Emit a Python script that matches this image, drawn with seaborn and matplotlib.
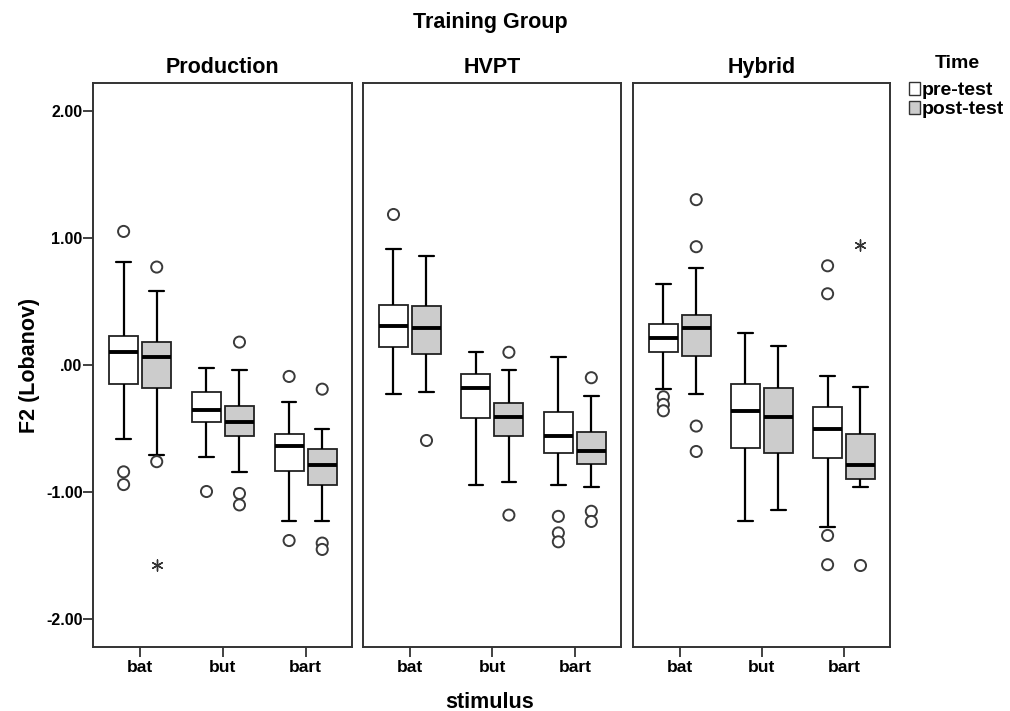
import numpy as np
import pandas as pd
import matplotlib
matplotlib.use("Agg")
import matplotlib.pyplot as plt
import seaborn as sns
from matplotlib.patches import Patch

groups = ["Production", "HVPT", "Hybrid"]
stimuli = ["bat", "but", "bart"]
times = ["pre-test", "post-test"]
yticks = [2.0, 1.0, 0.0, -1.0, -2.0]
ytick_labels = ["2.00", "1.00", ".00", "-1.00", "-2.00"]

# per group: one (pre, post) pair per stimulus (bat, but, bart)
whisker_low = {
    "Production": [(-0.58, -0.71), (-0.72, -0.84), (-1.23, -1.23)],
    "HVPT":       [(-0.23, -0.21), (-0.94, -0.92), (-0.94, -0.96)],
    "Hybrid":     [(-0.19, -0.23), (-1.23, -1.14), (-1.27, -0.96)],
}
q1 = {
    "Production": [(-0.15, -0.18), (-0.45, -0.56), (-0.83, -0.94)],
    "HVPT":       [(0.14, 0.09), (-0.42, -0.56), (-0.69, -0.78)],
    "Hybrid":     [(0.10, 0.07), (-0.65, -0.69), (-0.73, -0.90)],
}
median = {
    "Production": [(0.10, 0.06), (-0.35, -0.45), (-0.64, -0.79)],
    "HVPT":       [(0.31, 0.29), (-0.18, -0.41), (-0.56, -0.68)],
    "Hybrid":     [(0.21, 0.29), (-0.36, -0.41), (-0.50, -0.79)],
}
q3 = {
    "Production": [(0.23, 0.18), (-0.21, -0.32), (-0.54, -0.66)],
    "HVPT":       [(0.47, 0.46), (-0.07, -0.30), (-0.37, -0.53)],
    "Hybrid":     [(0.32, 0.39), (-0.15, -0.18), (-0.33, -0.54)],
}
whisker_high = {
    "Production": [(0.81, 0.58), (-0.02, -0.04), (-0.29, -0.50)],
    "HVPT":       [(0.91, 0.86), (0.10, -0.04), (0.06, -0.24)],
    "Hybrid":     [(0.64, 0.76), (0.25, 0.15), (-0.09, -0.17)],
}
# outliers (circles): per group, per stimulus, (pre list, post list)
outliers = {
    "Production": [([1.05, -0.84, -0.94], [0.77, -0.76]),
                   ([-0.99], [0.18, -1.01, -1.10]),
                   ([-0.09, -1.38], [-0.19, -1.40, -1.45])],
    "HVPT":       [([1.19], [-0.59]),
                   ([], [0.10, -1.18]),
                   ([-1.19, -1.32, -1.39], [-0.10, -1.15, -1.23])],
    "Hybrid":     [([-0.25, -0.31, -0.36], [1.30, 0.93, -0.48, -0.68]),
                   ([], []),
                   ([0.78, 0.56, -1.34, -1.57], [-1.57])],
}
# extreme values (asterisks)
extremes = {
    "Production": [([], [-1.57]), ([], []), ([], [])],
    "HVPT":       [([], []), ([], []), ([], [])],
    "Hybrid":     [([], []), ([], []), ([], [0.94])],
}

# ---- build tidy tables ----
box_rows, out_rows, ext_rows = [], [], []
for g in groups:
    for si, s in enumerate(stimuli):
        for ti, t in enumerate(times):
            five = [whisker_low[g][si][ti], q1[g][si][ti], median[g][si][ti],
                    q3[g][si][ti], whisker_high[g][si][ti]]
            for v in five:
                box_rows.append((g, s, t, v))
            for v in outliers[g][si][ti]:
                out_rows.append((g, s, t, v))
            for v in extremes[g][si][ti]:
                ext_rows.append((g, s, t, v))
cols = ["group", "stimulus", "time", "value"]
box_df = pd.DataFrame(box_rows, columns=cols)
out_df = pd.DataFrame(out_rows, columns=cols)
ext_df = pd.DataFrame(ext_rows, columns=cols)

sns.set_theme(style="white")
plt.rcParams["font.family"] = ["Liberation Sans", "DejaVu Sans"]
plt.rcParams["font.weight"] = "bold"
plt.rcParams["text.color"] = "black"
plt.rcParams["axes.labelcolor"] = "black"
plt.rcParams["xtick.color"] = "black"
plt.rcParams["ytick.color"] = "black"

W, H = 1010, 711
fig = plt.figure(figsize=(W / 100, H / 100), dpi=100)
panel_lr = [(93, 352), (363, 621), (633, 890)]
top_px, bot_px = 83, 647

fill = {"pre-test": "white", "post-test": "#cccccc"}
edge = "#222222"

for gi, g in enumerate(groups):
    l, r = panel_lr[gi]
    ax = fig.add_axes([l / W, 1 - bot_px / H, (r - l) / W, (bot_px - top_px) / H])
    sub = box_df[box_df.group == g]
    sns.boxplot(data=sub, x="stimulus", y="value", hue="time",
                order=stimuli, hue_order=times, palette=fill,
                width=0.8, gap=0.12, whis=(0, 100), showfliers=False,
                linewidth=1.3, linecolor=edge,
                medianprops=dict(color="black", linewidth=2.8),
                whiskerprops=dict(color="black", linewidth=1.6),
                capprops=dict(color="black", linewidth=1.6),
                legend=False, ax=ax)
    so = out_df[out_df.group == g]
    if len(so):
        sns.stripplot(data=so, x="stimulus", y="value", hue="time",
                      order=stimuli, hue_order=times,
                      palette={"pre-test": "white", "post-test": "white"},
                      dodge=True, jitter=False, marker="o", size=8,
                      edgecolor="#3a3a3a", linewidth=1.4, legend=False, ax=ax)
    se = ext_df[ext_df.group == g]
    if len(se):
        sns.stripplot(data=se, x="stimulus", y="value", hue="time",
                      order=stimuli, hue_order=times,
                      palette={"pre-test": "#333333", "post-test": "#333333"},
                      dodge=True, jitter=False, marker=(6, 2, 0), size=8,
                      edgecolor="#333333", linewidth=1.0, legend=False, ax=ax)
    ax.set_xlim(-0.57, 2.56)
    ax.set_ylim(-2.217, 2.217)
    ax.set_xlabel("")
    ax.set_ylabel("")
    ax.set_title(g, fontsize=15.5, fontweight="bold", pad=7, color="black")
    for sp in ax.spines.values():
        sp.set_visible(True)
        sp.set_color("#333333")
        sp.set_linewidth(1.4)
    ax.tick_params(axis="x", bottom=True, length=7, width=1.3, color="#333333",
                   labelsize=12.5, pad=2, labelcolor="black")
    ax.set_xticks(range(len(stimuli)))
    ax.set_xticklabels(stimuli, fontweight="bold")
    ax.set_yticks(yticks)
    if gi == 0:
        ax.set_yticklabels(ytick_labels, fontweight="bold")
        ax.tick_params(axis="y", left=True, length=7, width=1.3, color="#333333",
                       labelsize=11.5, pad=0.5, labelcolor="black")
    else:
        ax.tick_params(axis="y", left=False, labelleft=False)
    ax.grid(False)

fig.text(490 / W, 1 - 28 / H, "Training Group", ha="center", va="baseline",
         fontsize=15.5, fontweight="bold")
fig.text(490 / W, 1 - 702 / H, "stimulus", ha="center", va="center",
         fontsize=15.5, fontweight="bold")
fig.text(30 / W, 1 - 365 / H, "F2 (Lobanov)", ha="center", va="center",
         rotation=90, fontsize=15.5, fontweight="bold")

fig.text(957 / W, 1 - 68 / H, "Time", ha="center", va="baseline",
         fontsize=14, fontweight="bold")
handles = [Patch(facecolor=fill[t], edgecolor="#333333", linewidth=1.0) for t in times]
leg = fig.legend(handles, times, loc="upper left",
                 bbox_to_anchor=(909 / W, 1 - 82 / H), frameon=False,
                 prop={"weight": "bold", "size": 14},
                 handlelength=0.55, handleheight=0.65, handletextpad=0.1,
                 labelspacing=0.08, borderaxespad=0, borderpad=0)

fig.savefig("out.png", dpi=100)
